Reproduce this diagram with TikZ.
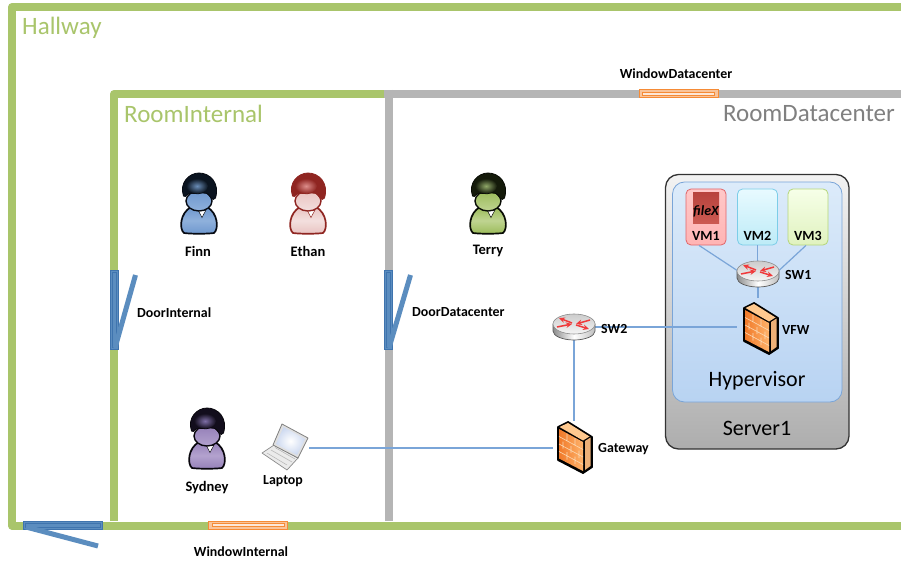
\documentclass[tikz,border=0pt]{standalone}
\usepackage{fontspec}
\setmainfont{Carlito}
\usetikzlibrary{shadings,arrows.meta}
\definecolor{wallgreen}{HTML}{A9C56B}
\definecolor{wallgray}{HTML}{B5B5B5}
\definecolor{doorblue}{HTML}{5B8DBF}
\definecolor{doorline}{HTML}{3F74AE}
\definecolor{winfill}{HTML}{F9C49A}
\definecolor{winline}{HTML}{F58B36}
\definecolor{linkblue}{HTML}{7AA5D8}
\definecolor{fwtop}{HTML}{FFC98F}
\definecolor{fwside}{HTML}{EDB077}
\definecolor{fwlight}{HTML}{FFB36B}
\definecolor{fwdark}{HTML}{F07A2A}
\definecolor{fwbrick}{HTML}{FBD9B4}
\definecolor{arrowred}{HTML}{F0393A}
% person palettes: O outline, D hair, H highlight, M body, L pale
\definecolor{pblueO}{HTML}{060A12}
\definecolor{pblueD}{HTML}{0B1420}
\definecolor{pblueH}{HTML}{6A8DB8}
\definecolor{pblueM}{HTML}{6E97CE}
\definecolor{pblueL}{HTML}{8FB1DC}
\definecolor{predO}{HTML}{8F2521}
\definecolor{predD}{HTML}{8F2521}
\definecolor{predH}{HTML}{DD8E8B}
\definecolor{predM}{HTML}{E9C3C1}
\definecolor{predL}{HTML}{F3DFDE}
\definecolor{pgreenO}{HTML}{080B04}
\definecolor{pgreenD}{HTML}{141A0A}
\definecolor{pgreenH}{HTML}{90A868}
\definecolor{pgreenM}{HTML}{9BBB59}
\definecolor{pgreenL}{HTML}{BFD491}
\definecolor{ppurpleO}{HTML}{08060C}
\definecolor{ppurpleD}{HTML}{120D1C}
\definecolor{ppurpleH}{HTML}{7F6FA8}
\definecolor{ppurpleM}{HTML}{9580B8}
\definecolor{ppurpleL}{HTML}{B3A2CE}
\definecolor{vmredline}{HTML}{E0656A}
\definecolor{vmredtop}{HTML}{FFC8C8}
\definecolor{vmredbot}{HTML}{FFB4B4}
\definecolor{vmblueline}{HTML}{7CCDE8}
\definecolor{vmbluetop}{HTML}{E8FAFF}
\definecolor{vmbluebot}{HTML}{BDEBF7}
\definecolor{vmgreenline}{HTML}{B5D67A}
\definecolor{vmgreentop}{HTML}{F6FFE8}
\definecolor{vmgreenbot}{HTML}{E0F2BF}
\definecolor{filetop}{HTML}{B8443E}
\definecolor{filebot}{HTML}{CC5A52}
\definecolor{hypertop}{HTML}{DCEBFA}
\definecolor{hyperbot}{HTML}{B8D3F2}
\definecolor{screen}{HTML}{CDD9F0}
\tikzset{
 x=1pt,y=-1pt,
 wall/.style={line width=8pt,line cap=butt,line join=round},
 doorframe/.style={fill=doorblue,draw=doorline,line width=.8pt},
 doorleaf/.style={line width=5pt,draw=doorblue,line cap=butt},
 winframe/.style={fill=winfill,draw=winline,line width=1pt},
 lbl/.style={font=\bfseries\fontsize{13.9}{16}\selectfont,text=black,inner sep=0pt},
 vmlbl/.style={font=\bfseries\fontsize{14}{16}\selectfont,text=black,inner sep=0pt},
 personlbl/.style={font=\bfseries\fontsize{14.5}{17}\selectfont,text=black,inner sep=0pt},
 roomlbl/.style={font=\fontsize{25}{29}\selectfont,inner sep=0pt},
 biglbl/.style={font=\fontsize{22}{26}\selectfont,text=black,inner sep=0pt},
 link/.style={draw=linkblue,line width=1.2pt},
 iconbox/.style n args={2}{inner sep=0pt,minimum width=#1,minimum height=#2},
 vmbox/.style={rectangle,rounded corners=5pt,minimum width=40pt,minimum height=56pt,inner sep=0pt,line width=.8pt},
}
\newcommand{\personicon}[4]{%
 \node[iconbox={35pt}{59pt}] (#4) at (#1,#2) {};
 \begin{scope}[shift={(#1,#2)}]
  \path[draw=#3O,line width=1.7pt,top color=#3M,bottom color=#3M,middle color=#3L,line join=round]
    (-15,28) .. controls (-20,24) and (-19,8) .. (-8,2) -- (8,2)
    .. controls (19,8) and (20,24) .. (15,28) .. controls (8,29) and (-8,29) .. (-15,28) -- cycle;
  \path[fill=white,draw=#3O,line width=.5pt] (-1,5) -- (3,12.5) -- (7,5) -- cycle;
  \path[draw=#3O,line width=1.4pt,top color=#3M,bottom color=#3L] (0,-4) ellipse [x radius=13,y radius=10];
  \path[fill=#3D,draw=#3O,line width=.8pt]
    (-15.5,-9) .. controls (-20,-22) and (-10,-32) .. (0,-32)
    .. controls (11,-32) and (21,-22) .. (16.5,-7)
    .. controls (15,-5) and (13.5,-5) .. (12,-7)
    .. controls (9,-12) and (6,-13) .. (3,-12)
    .. controls (-2,-10) and (-7,-13) .. (-11,-11)
    .. controls (-13,-9) and (-14.5,-7) .. (-15.5,-9) -- cycle;
  \shade[inner color=#3H,outer color=#3D] (-2,-19) ellipse [x radius=11,y radius=7.5];
 \end{scope}}
\newcommand{\fwicon}[2]{%
 \begin{scope}[shift={(#1,#2)}]
  \path[fill=black,draw=black,line width=1.8pt,line join=round]
    (-16,-20) -- (-6,-25) -- (18,-10) -- (18,20) -- (9,26) -- (-16,13) -- cycle;
  \path[fill=fwtop] (-14.5,-20) -- (-6,-24) -- (15.5,-10.5) -- (9,-6.5) -- cycle;
  \path[fill=fwside] (11,-6) -- (16.5,-9.5) -- (16.5,19) -- (11,23) -- cycle;
  \path[left color=fwdark,right color=fwlight] (-15,-18) -- (9,-5) -- (9,24) -- (-15,11.5) -- cycle;
  \draw[fwbrick,line width=.6pt] (-15,-10.5) -- (9,2.5) (-15,-3) -- (9,10) (-15,4.5) -- (9,17.5)
     (-7,-13.5) -- (-7,-6) (1,-9) -- (1,-1.5) (-11,-5.5) -- (-11,1.5) (-3,-1) -- (-3,6) (5,3.5) -- (5,11)
     (-7,5) -- (-7,12.5) (1,9.5) -- (1,17);
 \end{scope}}
\newcommand{\routericon}[2]{%
 \begin{scope}[shift={(#1,#2)}]
  \path[draw=black!65,line width=.7pt,left color=black!45,right color=black!25,middle color=white]
    (-21,-3) -- (-21,4) arc[start angle=180,end angle=0,x radius=21,y radius=9] -- (21,-3) -- cycle;
  \path[draw=black!45,line width=.6pt,top color=black!20,bottom color=black!4] (0,-3) ellipse [x radius=21,y radius=10];
  \draw[arrowred,line width=1.5pt,-{Stealth[length=6pt,width=5.5pt]}] (-17,0) -- (-2,-3);
  \draw[arrowred,line width=1.5pt,-{Stealth[length=6pt,width=5.5pt]}] (16,-7) -- (2,-3);
  \draw[arrowred,line width=1.5pt,-{Stealth[length=6pt,width=5.5pt]}] (-2,-4) -- (-15,-9);
  \draw[arrowred,line width=1.5pt,-{Stealth[length=6pt,width=5.5pt]}] (2,-2) -- (15,2);
 \end{scope}}
\begin{document}
\begin{tikzpicture}
\useasboundingbox (0,0) rectangle (901,561);
\fill[white] (0,0) rectangle (901,561);
% walls
\draw[wall,draw=wallgray] (384,94) -- (901,94);
\draw[wall,draw=wallgray] (388.5,90) -- (388.5,521);
\draw[wall,draw=wallgreen] (901,7) -- (12,7) -- (12,525.5) -- (901,525.5);
\draw[wall,draw=wallgreen] (114,521) -- (114,94) -- (384,94);
% doors
\path[doorframe] (23,521.5) rectangle (102,529);
\draw[doorline,line width=.6pt] (25,523.5) rectangle (100,527);
\draw[doorleaf] (26,527) -- (98,546);
\path[doorframe] (110,270) rectangle (118,349);
\draw[doorline,line width=.6pt] (112,272) rectangle (116,347);
\draw[doorleaf] (115,348) -- (135.5,275);
\path[doorframe] (384,270) rectangle (392,349);
\draw[doorline,line width=.6pt] (386,272) rectangle (390,347);
\draw[doorleaf] (389,348) -- (410.5,275);
% windows
\path[winframe] (208.5,521.5) rectangle (287.5,529);
\draw[winline,fill=white!60!winfill,line width=.7pt] (212,523) rectangle (284,526);
\path[winframe] (639,90) rectangle (718,98);
\draw[winline,fill=white!60!winfill,line width=.7pt] (642.5,92) rectangle (714.5,95);
% labels
\node[roomlbl,text=wallgreen,anchor=west] (hallway) at (22,28) {Hallway};
\node[roomlbl,text=wallgreen,anchor=west] (roominternal) at (124,114) {RoomInternal};
\node[roomlbl,text=black!50,anchor=east] (roomdatacenter) at (895,114) {RoomDatacenter};
\node[lbl] (windowdatacenter) at (676,74) {WindowDatacenter};
\node[lbl] (windowinternal) at (241,552) {WindowInternal};
\node[lbl,anchor=west] (doorinternal) at (137,313) {DoorInternal};
\node[lbl,anchor=west] (doordatacenter) at (412,312) {DoorDatacenter};
% server
\path[rounded corners=13pt,draw=black!80,line width=1.3pt,top color=black!5,bottom color=black!32] (665.5,174.5) rectangle (849,449);
\path[rounded corners=12pt,draw=linkblue,line width=.8pt,top color=hypertop,bottom color=hyperbot] (672.5,182) rectangle (842,402);
\node[vmbox,draw=vmredline,top color=vmredtop,bottom color=vmredbot] (vm1) at (706,217) {};
\node[vmbox,draw=vmblueline,top color=vmbluetop,bottom color=vmbluebot] (vm2) at (757.5,217) {};
\node[vmbox,draw=vmgreenline,top color=vmgreentop,bottom color=vmgreenbot] (vm3) at (808,217) {};
\node[iconbox={26pt}{31pt},top color=filetop,bottom color=filebot] (filedoc) at (706,208.5) {};
\node[font=\bfseries\itshape\fontsize{14}{16}\selectfont,inner sep=0pt] (filex) at (706,211) {fileX};
\node[vmlbl] (vm1l) at (706,236) {VM1};
\node[vmlbl] (vm2l) at (757.5,236) {VM2};
\node[vmlbl] (vm3l) at (808,236) {VM3};
\node[biglbl] (hypervisor) at (757,381) {Hypervisor};
\node[biglbl] (server1) at (757,428) {Server1};
% icon anchors
\node[iconbox={42pt}{26pt}] (sw1) at (758,274) {};
\node[iconbox={35pt}{51pt}] (vfw) at (760,328) {};
\node[iconbox={42pt}{26pt}] (sw2) at (574,327) {};
\node[iconbox={35pt}{51pt}] (gateway) at (574,447) {};
\node[iconbox={48pt}{47pt}] (laptop) at (285,448) {};
% links
\draw[link] ([xshift=-7pt]vm1.south) -- (sw1.170);
\draw[link] (vm2.south) -- (sw1.north -| vm2.south);
\draw[link] ([xshift=-2pt]vm3.south) -- (sw1.10);
\draw[link,shorten >=4pt] (sw1.south) -- (vfw.north -| sw1.south);
\draw[link,shorten >=5pt] (sw2.east) -- (vfw.west |- sw2.east);
\draw[link] (sw2.south) -- (gateway.north -| sw2.south);
\draw[link,shorten >=3pt] (laptop.east) -- (gateway.west |- laptop.east);
% icons
\routericon{758}{274}
\fwicon{760}{328}
\routericon{574}{327}
\fwicon{574}{447}
\node[lbl,anchor=west] (sw1l) at (785,275) {SW1};
\node[lbl,anchor=west] (vfwl) at (782,330) {VFW};
\node[lbl,anchor=west] (sw2l) at (601,329) {SW2};
\node[lbl,anchor=west] (gatewayl) at (598,449) {Gateway};
% people
\personicon{199}{205}{pblue}{finn}
\personicon{308}{205}{pred}{ethan}
\personicon{488}{205}{pgreen}{terry}
\personicon{207}{440}{ppurple}{sydney}
\node[personlbl] (finnl) at (198,251) {Finn};
\node[personlbl] (ethanl) at (308,251) {Ethan};
\node[personlbl] (terryl) at (488,251) {Terry};
\node[personlbl] (sydneyl) at (207,488) {Sydney};
% laptop
\path[fill=black!8,draw=black!45,line width=.7pt,line join=round] (262,453) -- (274,445) -- (298,458) -- (287,470) -- cycle;
\path[fill=black!12,draw=black!50,line width=.8pt,line join=round] (273,445) -- (282,424) -- (308,438) -- (298,458) -- cycle;
\path[inner color=white,outer color=screen] (276,444) -- (283.5,427) -- (305,439) -- (297,455) -- cycle;
\draw[black!30,line width=.5pt] (267,453) -- (287,465) (271,450) -- (292,462) (275,447.5) -- (295,459);
\node[lbl] (laptopl) at (283,481) {Laptop};
\end{tikzpicture}
\end{document}
